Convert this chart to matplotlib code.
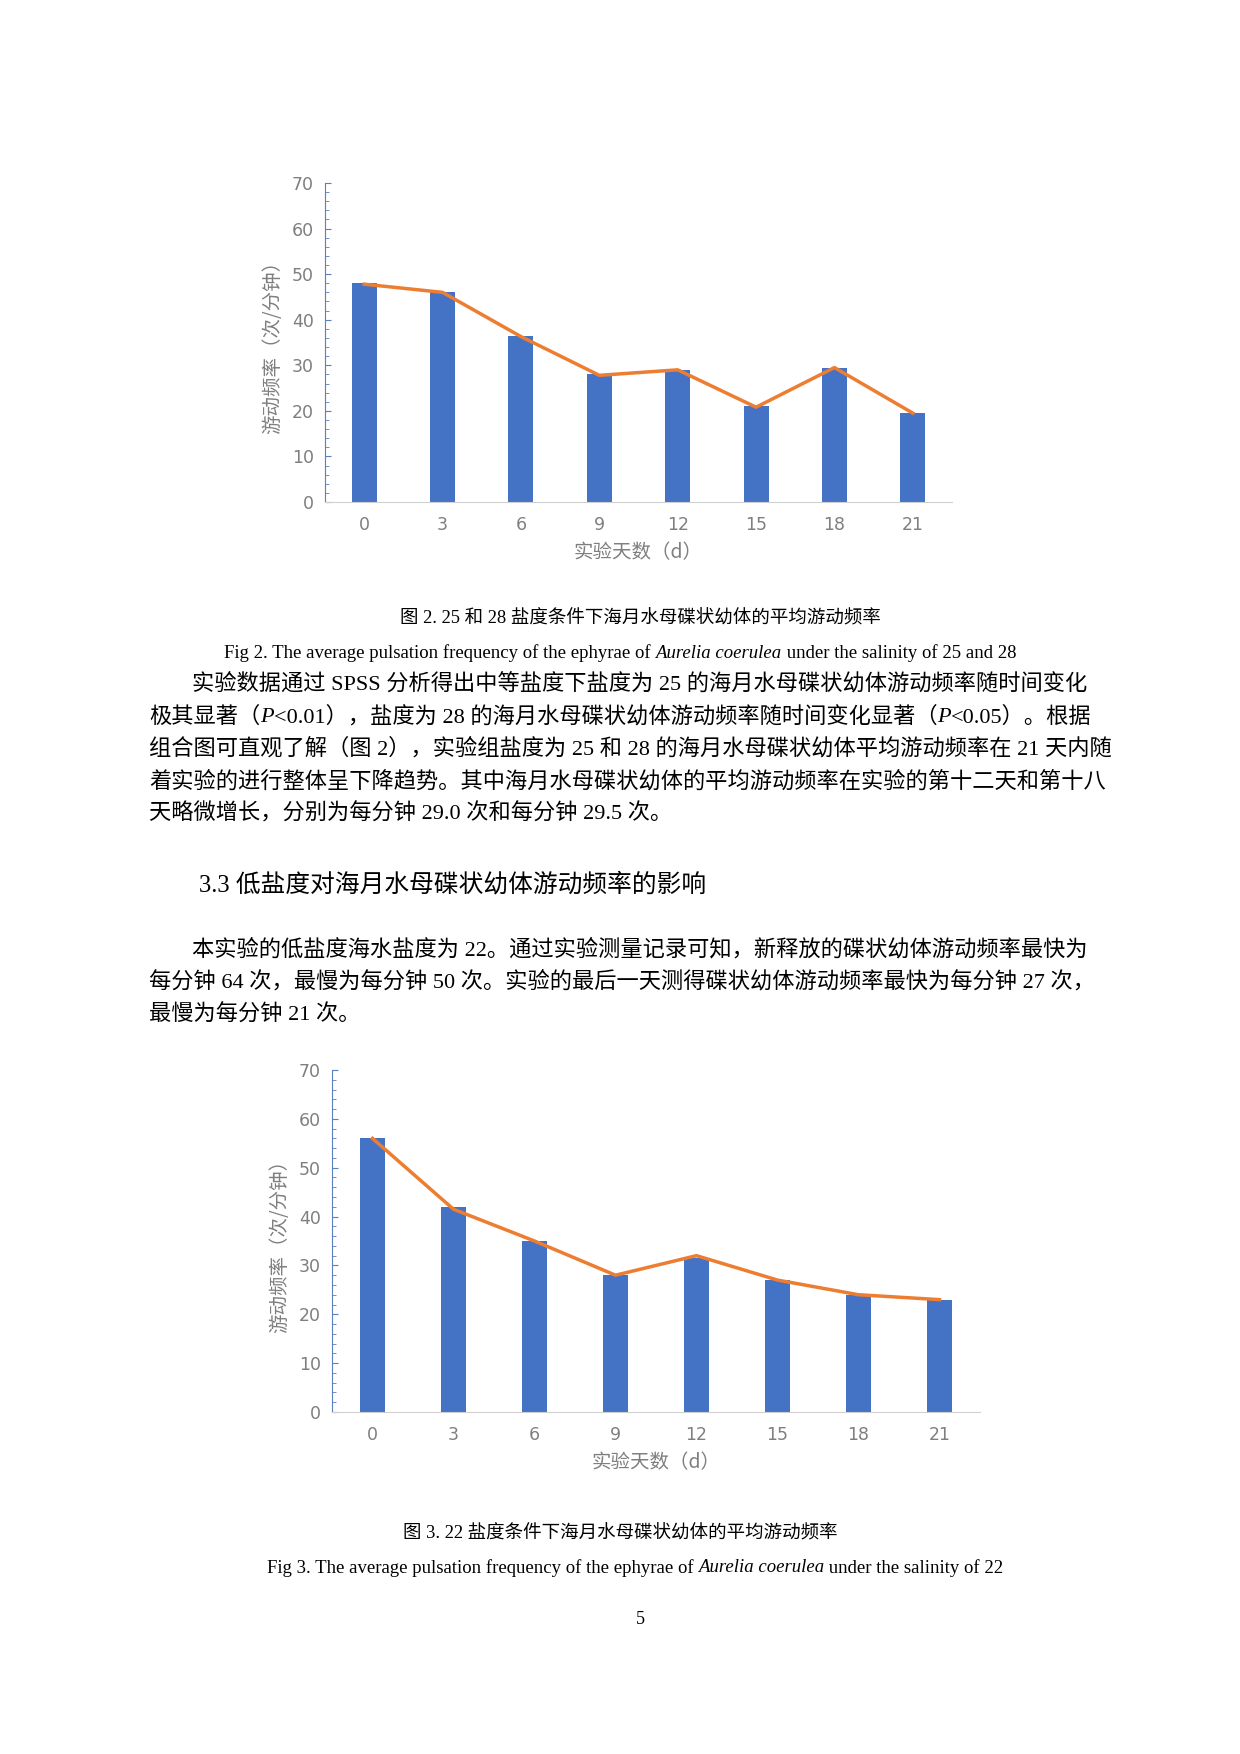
import matplotlib
matplotlib.use("Agg")
import matplotlib.pyplot as plt
from matplotlib.ticker import MultipleLocator

days = [0, 3, 6, 9, 12, 15, 18, 21]
freq_25_28_bar = [48, 46, 36.5, 28, 29, 21, 29.5, 19.5]
freq_25_28_line = [47.8, 46, 36.3, 27.8, 29, 20.8, 29.5, 19.5]
freq_22_bar = [56, 42, 35, 28, 31.5, 27, 24, 23]
freq_22_line = [56, 41.5, 35, 28, 32, 27, 24, 23]

W, H = 1240, 1754
fig = plt.figure(figsize=(W/100, H/100), dpi=100)
CJK = ['Noto Sans CJK SC', 'DejaVu Sans']
SER = ['Liberation Serif', 'Noto Sans CJK SC']
BLUE = '#4472C4'; ORANGE = '#ED7D31'; GRAY = '#7f7f7f'

def chart(l, r, t, b, bars, line):
    ax = fig.add_axes([l/W, 1-b/H, (r-l)/W, (b-t)/H])
    x = list(range(len(days)))
    ax.bar(x, bars, width=0.32, color=BLUE, zorder=2)
    ax.plot(x, line, color=ORANGE, lw=2.5, zorder=3)
    ax.set_xlim(-0.5, len(days)-0.5)
    ax.set_ylim(0, 70)
    ax.set_xticks(x)
    ax.set_xticklabels([str(d) for d in days])
    ax.yaxis.set_major_locator(MultipleLocator(10))
    ax.yaxis.set_minor_locator(MultipleLocator(2))
    for s in ['top', 'right']:
        ax.spines[s].set_visible(False)
    ax.spines['left'].set_color('#5b7fbf'); ax.spines['left'].set_linewidth(0.8)
    ax.spines['bottom'].set_color('#d0d0d0')
    ax.tick_params(axis='x', length=0, colors=GRAY, labelsize=12.5, pad=10)
    ax.tick_params(axis='y', which='both', direction='in', colors='#5b7fbf',
                   labelcolor=GRAY, labelsize=12.5, length=4, pad=8)
    ax.tick_params(axis='y', which='minor', length=3)
    ax.set_ylabel('游动频率（次/分钟）', family=CJK, fontsize=14, color=GRAY, labelpad=6)
    ax.set_xlabel('实验天数（d）', family=CJK, fontsize=14, color=GRAY, labelpad=6)
    return ax

chart(325, 952, 183, 502, freq_25_28_bar, freq_25_28_line)
chart(332, 980, 1070, 1412, freq_22_bar, freq_22_line)

fig.canvas.draw()
rend = fig.canvas.get_renderer()

def segs(x, y, parts, size=14.5, ha='left'):
    arts = []
    cx = x
    for txt, it in parts:
        t = fig.text(cx/W, 1-y/H, txt, family=SER, fontsize=size,
                     style='italic' if it else 'normal', va='center', ha='left')
        bb = t.get_window_extent(rend)
        cx += bb.width
        arts.append(t)
    if ha == 'center':
        shift = (cx - x)/2
        for t in arts:
            px, py = t.get_position()
            t.set_position((px - shift/W, py))

segs(640, 619, [('图 2. 25 和 28 盐度条件下海月水母碟状幼体的平均游动频率', False)], 13.3, 'center')
segs(620, 653, [('Fig 2. The average pulsation frequency of the ephyrae of ', False),
                ('Aurelia coerulea', True), (' under the salinity of 25 and 28', False)], 13.5, 'center')

L = 149
BS = 16
lines1 = [
    (L+43, 684, [('实验数据通过 SPSS 分析得出中等盐度下盐度为 25 的海月水母碟状幼体游动频率随时间变化', False)]),
    (L, 717, [('极其显著（', False), ('P', True), ('<0.01），盐度为 28 的海月水母碟状幼体游动频率随时间变化显著（', False), ('P', True), ('<0.05）。根据', False)]),
    (L, 749, [('组合图可直观了解（图 2），实验组盐度为 25 和 28 的海月水母碟状幼体平均游动频率在 21 天内随', False)]),
    (L, 782, [('着实验的进行整体呈下降趋势。其中海月水母碟状幼体的平均游动频率在实验的第十二天和第十八', False)]),
    (L, 814, [('天略微增长，分别为每分钟 29.0 次和每分钟 29.5 次。', False)]),
]
for x, y, p in lines1:
    segs(x, y, p, BS)

segs(199, 885, [('3.3 低盐度对海月水母碟状幼体游动频率的影响', False)], 17.8)

lines2 = [
    (L+43, 950, [('本实验的低盐度海水盐度为 22。通过实验测量记录可知，新释放的碟状幼体游动频率最快为', False)]),
    (L, 982, [('每分钟 64 次，最慢为每分钟 50 次。实验的最后一天测得碟状幼体游动频率最快为每分钟 27 次，', False)]),
    (L, 1015, [('最慢为每分钟 21 次。', False)]),
]
for x, y, p in lines2:
    segs(x, y, p, BS)

segs(620, 1534, [('图 3. 22 盐度条件下海月水母碟状幼体的平均游动频率', False)], 13.3, 'center')
segs(635, 1568, [('Fig 3. The average pulsation frequency of the ephyrae of ', False),
                 ('Aurelia coerulea', True), (' under the salinity of 22', False)], 13.5, 'center')
segs(640, 1620, [('5', False)], 13, 'center')

fig.savefig('out.png', dpi=100)
